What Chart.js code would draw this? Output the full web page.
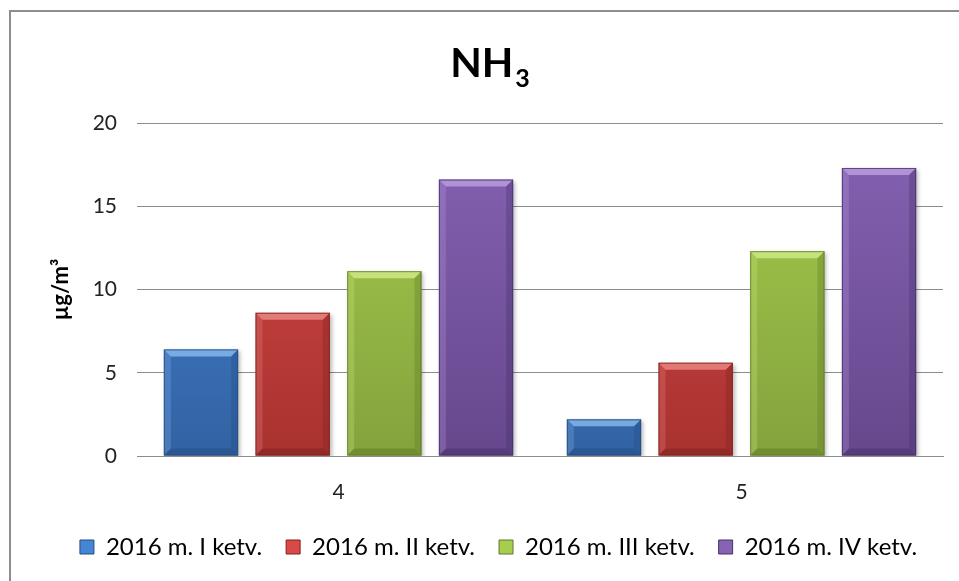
<!DOCTYPE html>
<html>
<head>
<meta charset="utf-8">
<script src="https://cdn.jsdelivr.net/npm/chart.js@4.4.1/dist/chart.umd.min.js"></script>
<style>
  html, body { margin: 0; padding: 0; background: #fff; overflow: hidden; }
  #frame { position: absolute; left: 9px; top: 10px; width: 1000px; height: 700px; border: 2px solid #8e8e8e; box-sizing: border-box; }
  #wrap { position: absolute; left: 0; top: 0; width: 959px; height: 581px; }
</style>
</head>
<body>
<div id="frame"></div>
<div id="wrap"><canvas id="c" width="959" height="581"></canvas></div>
<script>
// ---- data ----
const categories = ['4', '5'];
const seriesNames = ['2016 m. I ketv.', '2016 m. II ketv.', '2016 m. III ketv.', '2016 m. IV ketv.'];
const q1 = [6.4, 2.2];
const q2 = [8.6, 5.6];
const q3 = [11.1, 12.3];
const q4 = [16.6, 17.3];
const yTicks = [0, 5, 10, 15, 20];
const titleMain = 'NH';
const titleSub = '3';
const yTitle = 'µg/m³';

// ---- styles ----
const palette = [
  { top: '#4486d4', bottom: '#3262a3', light: '#8fc0f3', dark: '#234c80' },
  { top: '#d84a46', bottom: '#a8322f', light: '#f0908c', dark: '#80221f' },
  { top: '#a6cd4e', bottom: '#84a23c', light: '#d6f08c', dark: '#5f7a28' },
  { top: '#8763b4', bottom: '#66478c', light: '#c0a4e6', dark: '#46306a' }
];
const FONT = 'Lato, "Open Sans", sans-serif';

function grad(idx) {
  return function (ctx) {
    const chart = ctx.chart;
    const area = chart.chartArea;
    const p = palette[idx];
    if (!area) return p.top;
    const g = chart.ctx.createLinearGradient(0, area.top, 0, area.bottom);
    g.addColorStop(0, p.top);
    g.addColorStop(1, p.bottom);
    return g;
  };
}

const seriesValues = [q1, q2, q3, q4];
const datasets = seriesValues.map((vals, i) => ({
  label: seriesNames[i],
  data: vals,
  backgroundColor: grad(i),
  borderColor: palette[i].dark,
  borderWidth: 0,
  barPercentage: 0.81,
  categoryPercentage: 0.91
}));

const bevelPlugin = {
  id: 'bevel',
  beforeDatasetsDraw(chart) {
    const ctx = chart.ctx;
    ctx.save();
    ctx.shadowColor = 'rgba(0,0,0,0.28)';
    ctx.shadowBlur = 4;
    ctx.shadowOffsetX = 2;
    ctx.shadowOffsetY = 2;
  },
  afterDatasetsDraw(chart) {
    const ctx = chart.ctx;
    ctx.restore();
    chart.data.datasets.forEach((ds, di) => {
      const meta = chart.getDatasetMeta(di);
      const p = palette[di];
      meta.data.forEach(bar => {
        const x0 = bar.x - bar.width / 2, x1 = bar.x + bar.width / 2;
        const y0 = bar.y, y1 = bar.base;
        const b = Math.min(7, (y1 - y0) / 3);
        ctx.save();
        ctx.globalAlpha = 0.75;
        ctx.fillStyle = p.light;
        ctx.beginPath();
        ctx.moveTo(x0, y0); ctx.lineTo(x1, y0); ctx.lineTo(x1 - b, y0 + b); ctx.lineTo(x0 + b, y0 + b); ctx.closePath();
        ctx.fill();
        ctx.globalAlpha = 0.25;
        ctx.beginPath();
        ctx.moveTo(x0, y0); ctx.lineTo(x0 + b, y0 + b); ctx.lineTo(x0 + b, y1 - b); ctx.lineTo(x0, y1); ctx.closePath();
        ctx.fill();
        ctx.globalAlpha = 0.35;
        ctx.fillStyle = p.dark;
        ctx.beginPath();
        ctx.moveTo(x1, y0); ctx.lineTo(x1 - b, y0 + b); ctx.lineTo(x1 - b, y1 - b); ctx.lineTo(x1, y1); ctx.closePath();
        ctx.fill();
        ctx.globalAlpha = 0.5;
        ctx.beginPath();
        ctx.moveTo(x0, y1); ctx.lineTo(x1, y1); ctx.lineTo(x1 - b, y1 - b); ctx.lineTo(x0 + b, y1 - b); ctx.closePath();
        ctx.fill();
        ctx.globalAlpha = 0.8;
        ctx.strokeStyle = p.dark;
        ctx.lineWidth = 1;
        ctx.strokeRect(x0 + 0.5, y0 + 0.5, bar.width - 1, y1 - y0 - 1);
        ctx.restore();
      });
    });
  }
};

const legendShift = {
  id: 'legendShift',
  afterLayout(chart) {
    const lg = chart.legend;
    if (lg) { lg.left += 12; lg.right += 12; }
  }
};

const titlePlugin = {
  id: 'subTitle',
  afterDraw(chart) {
    const ctx = chart.ctx;
    ctx.save();
    ctx.fillStyle = '#000';
    ctx.textBaseline = 'alphabetic';
    ctx.font = 'bold 41px ' + FONT;
    const wMain = ctx.measureText(titleMain).width;
    ctx.font = 'bold 25px ' + FONT;
    const wSub = ctx.measureText(titleSub).width;
    const cx = 490;
    const start = cx - (wMain + 2 + wSub) / 2;
    ctx.font = 'bold 41px ' + FONT;
    ctx.fillText(titleMain, start, 77);
    ctx.font = 'bold 25px ' + FONT;
    ctx.fillText(titleSub, start + wMain + 2, 87);
    ctx.restore();
  }
};

new Chart(document.getElementById('c'), {
  type: 'bar',
  data: { labels: categories, datasets },
  plugins: [bevelPlugin, legendShift, titlePlugin],
  options: {
    responsive: false,
    animation: false,
    layout: { padding: { top: 123, right: 16, left: 30, bottom: 12 } },
    plugins: {
      title: { display: false },
      tooltip: { enabled: false },
      legend: {
        position: 'bottom',
        labels: {
          boxWidth: 14,
          boxHeight: 14,
          padding: 24,
          color: '#222',
          font: { family: FONT, size: 24 },
          generateLabels(chart) {
            return chart.data.datasets.map((ds, i) => ({
              text: ds.label,
              fillStyle: palette[i].top,
              strokeStyle: palette[i].dark,
              lineWidth: 1,
              hidden: false,
              datasetIndex: i
            }));
          }
        }
      }
    },
    scales: {
      x: {
        grid: { display: false, drawTicks: false },
        border: { display: true, color: '#8c8c8c', width: 1 },
        ticks: { color: '#222', font: { family: FONT, size: 21 }, padding: 24 },
        afterFit(scale) { scale.height = 55; }
      },
      y: {
        min: 0,
        max: 20,
        afterBuildTicks(scale) { scale.ticks = yTicks.map(v => ({ value: v })); },
        grid: { color: '#8c8c8c', lineWidth: 1, drawTicks: false },
        border: { display: false },
        ticks: { color: '#222', font: { family: FONT, size: 21 }, padding: 20 },
        title: { display: true, text: yTitle, color: '#000', font: { family: FONT, size: 22, weight: 'bold' }, padding: { top: 18, bottom: 0 } },
        afterFit(scale) { scale.width = 107; }
      }
    }
  }
});
</script>
</body>
</html>
